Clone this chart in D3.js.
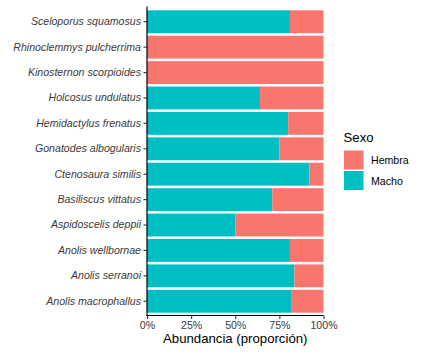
<!DOCTYPE html>
<html>
<head>
<meta charset="utf-8">
<script src="https://cdn.jsdelivr.net/npm/d3@7"></script>
<style>
  html, body { margin: 0; padding: 0; background: #fff; }
  svg { display: block; font-family: "Liberation Sans", Arial, sans-serif; }
</style>
</head>
<body>
<svg id="chart" width="422" height="354"></svg>
<script>
// species, top to bottom as shown
var species = [
    "Sceloporus squamosus",
    "Rhinoclemmys pulcherrima",
    "Kinosternon scorpioides",
    "Holcosus undulatus",
    "Hemidactylus frenatus",
    "Gonatodes albogularis",
    "Ctenosaura similis",
    "Basiliscus vittatus",
    "Aspidoscelis deppii",
    "Anolis wellbornae",
    "Anolis serranoi",
    "Anolis macrophallus"
];

// proportion of each sex per species
var macho  = [0.81, 0, 0, 0.64, 0.80, 0.75, 0.92, 0.71, 0.50, 0.81, 0.835, 0.82];
var hembra = [0.19, 1, 1, 0.36, 0.20, 0.25, 0.08, 0.29, 0.50, 0.19, 0.165, 0.18];

var sexes = ["Hembra", "Macho"];
var sexColors = ["#F8766D", "#00BFC4"];

var xTicks = [0, 0.25, 0.5, 0.75, 1];

var svg = d3.select("#chart");

var x = d3.scaleLinear().domain([0, 1]).range([147, 323.5]);
var y = d3.scaleBand()
    .domain(species)
    .range([6.5, 316.5])
    .paddingInner(0.1)
    .paddingOuter(0.15);
var color = d3.scaleOrdinal().domain(sexes).range(sexColors);

var rows = species.map(function(s, i) {
    return {species: s, Macho: macho[i], Hembra: hembra[i]};
});

// macho sits on the left, hembra stacked after it
var stacked = d3.stack().keys(["Macho", "Hembra"])(rows);

svg.append("g")
    .selectAll("g")
    .data(stacked)
    .enter()
    .append("g")
    .attr("fill", function(d) { return color(d.key); })
    .selectAll("rect")
    .data(function(d) { return d; })
    .enter()
    .append("rect")
    .attr("x", function(d) { return x(d[0]); })
    .attr("width", function(d) { return x(d[1]) - x(d[0]); })
    .attr("y", function(d) { return y(d.data.species); })
    .attr("height", y.bandwidth());

// axes
var xAxis = svg.append("g")
    .attr("transform", "translate(0,315.5)")
    .call(d3.axisBottom(x).tickValues(xTicks).tickFormat(d3.format(".0%")).tickSizeOuter(0).tickSize(3.5).tickPadding(2));

var yAxis = svg.append("g")
    .attr("transform", "translate(147,0)")
    .call(d3.axisLeft(y).tickSizeOuter(0).tickSize(3.5).tickPadding(2.5));

[xAxis, yAxis].forEach(function(a) {
    a.select(".domain").attr("stroke", "#000").attr("stroke-width", 1.2);
    a.selectAll(".tick line").attr("stroke", "#333").attr("stroke-width", 1.1);
    a.selectAll(".tick text")
        .attr("fill", "#3a3a3a")
        .style("font-size", "10.6px")
        .style("font-family", "'Liberation Sans', Arial, sans-serif");
});
yAxis.select(".domain").attr("d", "M0,6.5V316");
xAxis.select(".domain").attr("d", "M146.4,0H323.5");
yAxis.selectAll(".tick text").style("font-style", "italic");

svg.append("text")
    .attr("x", (x.range()[0] + x.range()[1]) / 2)
    .attr("y", 342.5)
    .attr("text-anchor", "middle")
    .style("font-size", "13.2px")
    .attr("fill", "#000")
    .text("Abundancia (proporción)");

// legend
var legend = svg.append("g").attr("transform", "translate(344,0)");
legend.append("text")
    .attr("x", -0.5)
    .attr("y", 142)
    .style("font-size", "13.2px")
    .attr("fill", "#000")
    .text("Sexo");

var item = legend.selectAll("g.item")
    .data(sexes)
    .enter()
    .append("g")
    .attr("class", "item")
    .attr("transform", function(d, i) { return "translate(0," + (150.5 + i * 20.5) + ")"; });

item.append("rect")
    .attr("width", 19.5)
    .attr("height", 19)
    .attr("fill", function(d) { return color(d); });

item.append("text")
    .attr("x", 27)
    .attr("y", 9.8)
    .attr("dy", "0.35em")
    .style("font-size", "10.6px")
    .attr("fill", "#000")
    .text(function(d) { return d; });
</script>
</body>
</html>
